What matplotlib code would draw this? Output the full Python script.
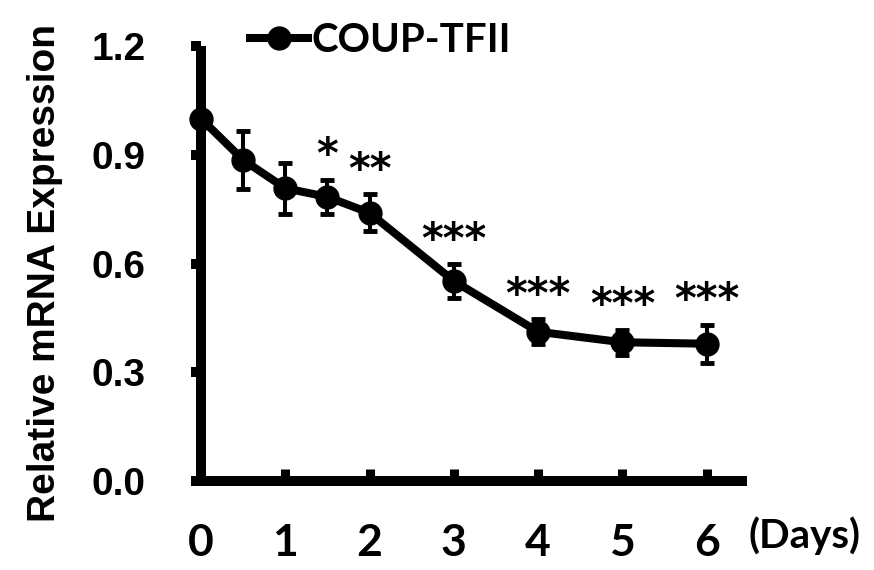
import numpy as np
import matplotlib
matplotlib.use("Agg")
import matplotlib.pyplot as plt
from matplotlib.lines import Line2D

# data
days = [0, 0.5, 1, 1.5, 2, 3, 4, 5, 6]
expr = [1.0, 0.886, 0.808, 0.784, 0.740, 0.552, 0.412, 0.383, 0.379]
err = [0.0, 0.080, 0.070, 0.048, 0.051, 0.048, 0.035, 0.035, 0.053]
stars = ["", "", "", "*", "**", "***", "***", "***", "***"]

xticks = [0, 1, 2, 3, 4, 5, 6]
yticks = [0.0, 0.3, 0.6, 0.9, 1.2]
ytick_labels = ["0.0", "0.3", "0.6", "0.9", "1.2"]

series_name = "COUP-TFII"

arial = "Liberation Sans"
calib = "Lato"

fig = plt.figure(figsize=(8.74, 5.70), dpi=100)
ax = fig.add_axes([0.230, 0.156, 0.619, 0.763])

ax.errorbar(days, expr, yerr=err, color="black", lw=5.8, marker="o", markersize=16.5,
            elinewidth=2.9, capsize=4.7, capthick=3.5, clip_on=False, zorder=3)

for x, y, e, s in zip(days, expr, err, stars):
    if s:
        ax.annotate(s, xy=(x, y + e), xytext=(0, 8), textcoords="offset points",
                    ha="center", va="baseline", fontsize=30, fontweight="bold",
                    family="DejaVu Sans")

ax.set_xlim(0, 6.42)
ax.set_ylim(0, 1.2)

for side in ["top", "right"]:
    ax.spines[side].set_visible(False)
for side in ["left", "bottom"]:
    ax.spines[side].set_linewidth(7.2)
ax.spines["left"].set_capstyle("butt")

ax.set_xticks(xticks)
ax.set_xticklabels([str(t) for t in xticks])
ax.set_yticks(yticks)
ax.set_yticklabels(ytick_labels)

ax.tick_params(axis="x", direction="in", length=8.6, width=6.5, pad=30, color="black")
ax.tick_params(axis="y", direction="out", length=7.2, width=7.2, pad=33, color="black")

for lab in ax.get_xticklabels():
    lab.set_fontfamily(calib)
    lab.set_fontweight("bold")
    lab.set_fontsize(32)
for lab in ax.get_yticklabels():
    lab.set_fontfamily(arial)
    lab.set_fontweight("bold")
    lab.set_fontsize(28)

ax.set_ylabel("Relative mRNA Expression", fontsize=28, fontweight="bold", family=arial)
ax.yaxis.set_label_coords(-0.255, 0.478)

fig.text(804 / 874, 0.0386, "(Days)", ha="center", va="baseline", fontsize=29,
         fontweight="bold", family=calib)

handle = Line2D([], [], color="black", lw=5.8, marker="o", markersize=16.5)
leg = fig.legend([handle], [series_name], loc="upper left",
                 bbox_to_anchor=(250 / 874, 1 - 22 / 570), frameon=False,
                 handlelength=1.45, handletextpad=0.08, borderpad=0, borderaxespad=0,
                 prop={"family": calib, "weight": "bold", "size": 29})

fig.savefig("out.png", dpi=100)
